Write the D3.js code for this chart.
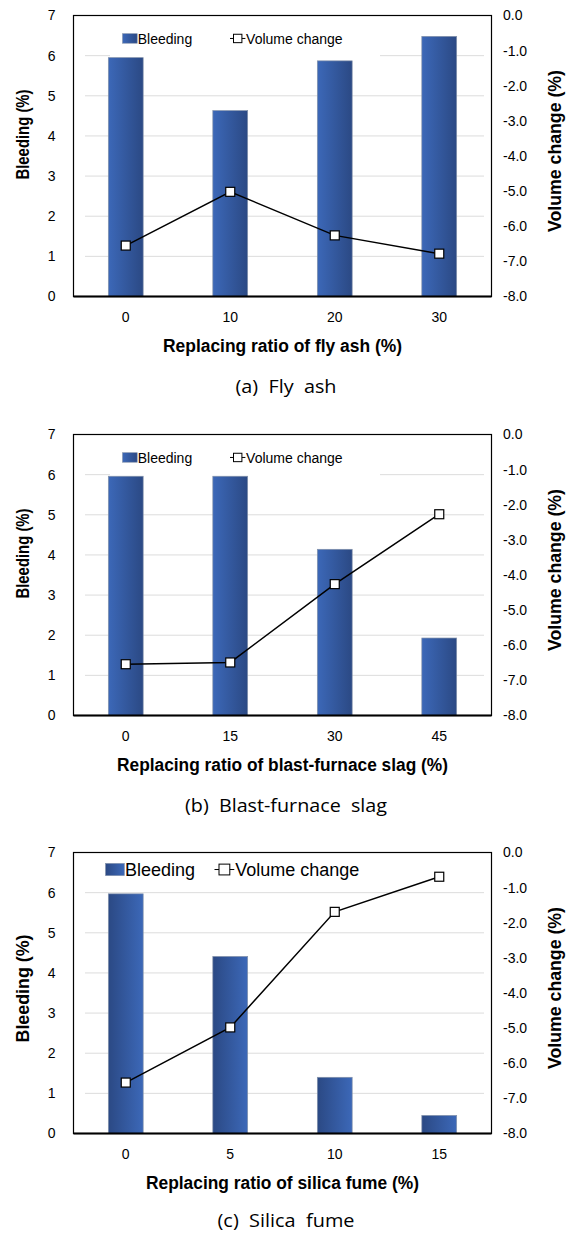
<!DOCTYPE html>
<html>
<head>
<meta charset="utf-8">
<script src="https://cdn.jsdelivr.net/npm/d3@7"></script>
<style>
  body { margin: 0; background: #fff; }
  svg { display: block; }
</style>
</head>
<body>
<div id="chart"></div>
<script>
// replacing ratios (x categories)
var ratiosFlyAsh = ["0", "10", "20", "30"];
var ratiosSlag = ["0", "15", "30", "45"];
var ratiosSilica = ["0", "5", "10", "15"];

// bleeding (%) - bars
var bleedingFlyAsh = [5.95, 4.63, 5.87, 6.48];
var bleedingSlag = [5.96, 5.96, 4.14, 1.93];
var bleedingSilica = [5.97, 4.41, 1.40, 0.45];

// volume change (%) - line
var volumeFlyAsh = [-6.55, -5.02, -6.26, -6.78];
var volumeSlag = [-6.54, -6.49, -4.26, -2.27];
var volumeSilica = [-6.55, -4.98, -1.69, -0.69];

// tick labels
var bleedingTicks = [0, 1, 2, 3, 4, 5, 6, 7];
var volumeTicks = [0, -1, -2, -3, -4, -5, -6, -7, -8];

var xTitles = [
    "Replacing ratio of fly ash (%)",
    "Replacing ratio of blast-furnace slag (%)",
    "Replacing ratio of silica fume (%)"
];
var captions = ["(a)  Fly  ash", "(b)  Blast-furnace  slag", "(c)  Silica  fume"];
var legendNames = ["Bleeding", "Volume change"];

var width = 570, height = 1233;
var plot = { left: 73.5, right: 491.5, height: 281 };

var panels = [
    { top: 15.5, cats: ratiosFlyAsh, bars: bleedingFlyAsh, line: volumeFlyAsh, grad: "gradLR",
      xLen: 239, capLen: 101, capY: 96, yTitleMid: 119, yLen: 90, legendFont: 14,
      legend: { x0: 110, x1: 380, swatch: 122.5, vol: 230, y: 28 } },
    { top: 434.5, cats: ratiosSlag, bars: bleedingSlag, line: volumeSlag, grad: "gradLR",
      xLen: 331, capLen: 202, capY: 96, yTitleMid: 119, yLen: 90, legendFont: 14,
      legend: { x0: 110, x1: 380, swatch: 122.5, vol: 230, y: 28 } },
    { top: 852.5, cats: ratiosSilica, bars: bleedingSilica, line: volumeSilica, grad: "gradRL",
      xLen: 273, capLen: 137, capY: 93, yTitleMid: 136, yLen: 108, legendFont: 18,
      legend: { x0: 86, x1: 368, swatch: 105.5, vol: 214.5, y: 23.5 } }
];

var svg = d3.select("#chart").append("svg")
    .attr("width", width)
    .attr("height", height);

svg.append("rect").attr("width", width).attr("height", height).attr("fill", "#fff");

// bar gradients (light -> dark, and the reverse for panel c)
var defs = svg.append("defs");
function addGradient(id, from, to) {
    var g = defs.append("linearGradient").attr("id", id)
        .attr("x1", "0%").attr("x2", "100%").attr("y1", "0%").attr("y2", "0%");
    g.append("stop").attr("offset", "0%").attr("stop-color", from);
    g.append("stop").attr("offset", "100%").attr("stop-color", to);
}
addGradient("gradLR", "#3c68b8", "#2b4984");
addGradient("gradRL", "#2b4984", "#3c68b8");

var tickFont = "Liberation Sans, Arial, sans-serif";

function drawPanel(p, idx) {
    var g = svg.append("g").attr("transform", `translate(0, ${p.top})`);
    var h = plot.height;

    var x = d3.scaleBand()
        .domain(p.cats)
        .range([plot.left, plot.right])
        .paddingInner(2 / 3)
        .paddingOuter(1 / 3);
    var yLeft = d3.scaleLinear().domain([0, 7]).range([h, 0]);
    var yRight = d3.scaleLinear().domain([-8, 0]).range([h, 0]);

    // gridlines
    g.append("g").selectAll("line")
        .data(bleedingTicks.slice(1, 7))
        .enter().append("line")
        .attr("x1", 85).attr("x2", 484)
        .attr("y1", d => yLeft(d)).attr("y2", d => yLeft(d))
        .attr("stroke", "#dcdcdc").attr("stroke-width", 1);

    // legend background hides grid
    g.append("rect")
        .attr("x", p.legend.x0).attr("y", p.legend.y - 16)
        .attr("width", p.legend.x1 - p.legend.x0).attr("height", 30)
        .attr("fill", "#fff");

    // bars
    g.append("g").selectAll("rect")
        .data(p.bars)
        .enter().append("rect")
        .attr("x", (d, i) => x(p.cats[i]))
        .attr("y", d => yLeft(d))
        .attr("width", x.bandwidth())
        .attr("height", d => h - yLeft(d))
        .attr("fill", `url(#${p.grad})`)
        .attr("stroke", "#8291aa")
        .attr("stroke-width", 0.7);

    // line + markers
    var pts = p.line.map((v, i) => [x(p.cats[i]) + x.bandwidth() / 2, yRight(v)]);
    g.append("path")
        .attr("d", d3.line()(pts))
        .attr("fill", "none")
        .attr("stroke", "#000")
        .attr("stroke-width", 1.5);
    g.append("g").selectAll("rect")
        .data(pts)
        .enter().append("rect")
        .attr("x", d => d[0] - 4.5).attr("y", d => d[1] - 4.5)
        .attr("width", 9).attr("height", 9)
        .attr("fill", "#fff").attr("stroke", "#000").attr("stroke-width", 1.2);

    // frame
    g.append("rect")
        .attr("x", plot.left).attr("y", 0)
        .attr("width", plot.right - plot.left).attr("height", h)
        .attr("fill", "none").attr("stroke", "#000").attr("stroke-width", 1.2);
    g.append("line")
        .attr("x1", plot.left).attr("x2", plot.right)
        .attr("y1", h).attr("y2", h)
        .attr("stroke", "#000").attr("stroke-width", 1.8);

    // axes
    var xAxis = g.append("g")
        .attr("transform", `translate(0, ${h})`)
        .call(d3.axisBottom(x).tickSize(0).tickPadding(16));
    var leftAxis = g.append("g")
        .attr("transform", `translate(${plot.left}, 0)`)
        .call(d3.axisLeft(yLeft).tickValues(bleedingTicks)
            .tickFormat(d => String(d)).tickSize(0).tickPadding(18));
    var rightAxis = g.append("g")
        .attr("transform", `translate(${plot.right}, 0)`)
        .call(d3.axisRight(yRight).tickValues(volumeTicks)
            .tickFormat(d => d.toFixed(1)).tickSize(0).tickPadding(11.5));
    [xAxis, leftAxis, rightAxis].forEach(function (a) {
        a.select(".domain").remove();
        a.selectAll("text")
            .attr("font-family", tickFont)
            .attr("font-size", 14)
            .attr("fill", "#000");
    });

    // legend
    var fs = p.legendFont;
    var sw = fs * 1.05;
    g.append("rect")
        .attr("x", p.legend.swatch).attr("y", p.legend.y - fs * 0.7)
        .attr("width", sw).attr("height", fs * 0.68)
        .attr("fill", `url(#${p.grad})`)
        .attr("stroke", "#8291aa").attr("stroke-width", 0.6);
    g.append("text")
        .attr("x", p.legend.swatch + sw + 0.5).attr("y", p.legend.y)
        .attr("font-family", tickFont).attr("font-size", fs)
        .text(legendNames[0]);
    var vx = p.legend.vol, vs = fs * 0.6;
    g.append("line")
        .attr("x1", vx).attr("x2", vx + fs * 1.1)
        .attr("y1", p.legend.y - fs * 0.36).attr("y2", p.legend.y - fs * 0.36)
        .attr("stroke", "#000").attr("stroke-width", 1);
    g.append("rect")
        .attr("x", vx + fs * 0.55 - vs / 2).attr("y", p.legend.y - fs * 0.36 - vs / 2)
        .attr("width", vs).attr("height", vs)
        .attr("fill", "#fff").attr("stroke", "#000").attr("stroke-width", 1);
    g.append("text")
        .attr("x", vx + fs * 1.15).attr("y", p.legend.y)
        .attr("font-family", tickFont).attr("font-size", fs)
        .text(legendNames[1]);

    // axis titles
    var mid = (plot.left + plot.right) / 2;
    g.append("text")
        .attr("x", mid).attr("y", h + 55.5)
        .attr("text-anchor", "middle")
        .attr("font-family", tickFont).attr("font-weight", "bold").attr("font-size", 18)
        .attr("textLength", p.xLen).attr("lengthAdjust", "spacingAndGlyphs")
        .text(xTitles[idx]);

    g.append("text")
        .attr("transform", `translate(29, ${p.yTitleMid}) rotate(-90)`)
        .attr("text-anchor", "middle")
        .attr("font-family", tickFont).attr("font-weight", "bold").attr("font-size", 18)
        .attr("textLength", p.yLen).attr("lengthAdjust", "spacingAndGlyphs")
        .text("Bleeding (%)");

    g.append("text")
        .attr("transform", `translate(561, ${h / 2 - 5}) rotate(-90)`)
        .attr("text-anchor", "middle")
        .attr("font-family", tickFont).attr("font-weight", "bold").attr("font-size", 18)
        .attr("textLength", 162).attr("lengthAdjust", "spacingAndGlyphs")
        .text("Volume change (%)");

    // caption
    g.append("text")
        .attr("x", 286).attr("y", h + p.capY)
        .attr("text-anchor", "middle")
        .attr("font-family", "Open Sans, Noto Sans, sans-serif").attr("font-size", 19)
        .style("white-space", "pre")
        .attr("textLength", p.capLen).attr("lengthAdjust", "spacingAndGlyphs")
        .text(captions[idx]);
}

panels.forEach(drawPanel);
</script>
</body>
</html>
